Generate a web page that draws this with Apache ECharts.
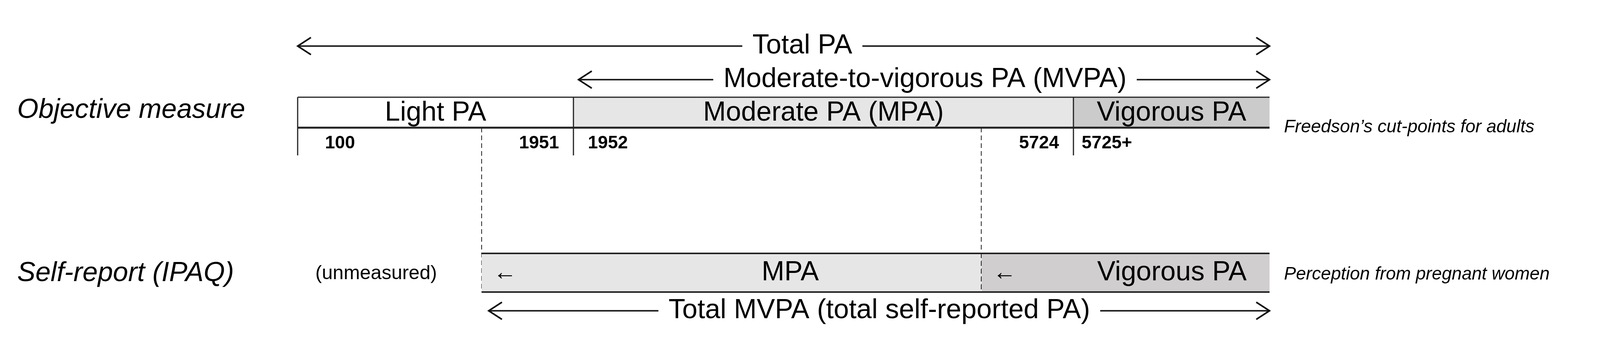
<!DOCTYPE html>
<html><head><meta charset="utf-8">
<script src="https://cdn.jsdelivr.net/npm/echarts@6/dist/echarts.min.js"></script>
<style>html,body{margin:0;background:#fff}#c{width:4272px;height:899px}</style>
</head><body><div id="c"></div>
<script>
// 位置单位 = 画布像素
const objEdges = [762, 1468, 2748, 3250];
const objLabels = ['Light PA', 'Moderate PA (MPA)', 'Vigorous PA'];
const objFills = ['#ffffff', '#e6e6e6', '#cbcbcb'];
const cutLabels = ['100', '1951', '1952', '5724', '5725+'];
const cutPos = [832, 1431, 1505, 2711, 2769];
const cutAlign = ['left', 'right', 'left', 'right', 'left'];
const selfEdges = [1233, 2512, 3250];
const selfLabels = ['MPA', 'Vigorous PA'];
const selfFills = ['#e6e6e6', '#d0cece'];
const arrowNames = ['Total PA', 'Moderate-to-vigorous PA (MVPA)', 'Total MVPA (total self-reported PA)'];
const arrowFrom = [762, 1481, 1251];
const arrowTo = [3250, 3250, 3250];
const arrowY = [118, 204, 796];
const arrowTextX = [2054, 2368, 2251];

const FONT = '"Liberation Sans", Arial, sans-serif';
const ob = {y0: 249, y1: 327, tickEnd: 398};
const sb = {y0: 649, y1: 748};

function line(api, x0, y0, x1, y1, dash, w) {
  const a = api.coord([x0, y0]), b = api.coord([x1, y1]);
  return {type: 'line', shape: {x1: a[0], y1: a[1], x2: b[0], y2: b[1]},
    style: {stroke: '#222', lineWidth: w || 3, lineDash: dash ? [12, 8] : null}};
}
function text(api, x, y, s, opt) {
  const p = api.coord([x, y]);
  opt = opt || {};
  return {type: 'text', x: p[0], y: p[1], z2: 10,
    style: {text: s, fill: '#000', font: (opt.style || '') + ' ' + (opt.weight || 'normal') + ' ' + (opt.size || 70) + 'px ' + FONT,
      align: opt.align || 'center', verticalAlign: 'middle',
      backgroundColor: opt.bg || null, padding: opt.bg ? [0, 26] : 0}};
}
function arrowHead(api, x, y, dir) {
  const a = api.coord([x, y]);
  return {type: 'polyline', shape: {points: [[a[0] - dir * 34, a[1] - 22], [a[0], a[1]], [a[0] - dir * 34, a[1] + 22]]},
    style: {stroke: '#111', lineWidth: 4, fill: null}};
}

function renderAll(params, api) {
  const ch = [];
  // 客观测量条
  for (let i = 0; i < objLabels.length; i++) {
    const a = api.coord([objEdges[i], ob.y0]), b = api.coord([objEdges[i + 1], ob.y1]);
    ch.push({type: 'rect', shape: {x: a[0], y: a[1], width: b[0] - a[0], height: b[1] - a[1]}, style: {fill: objFills[i]}});
    ch.push(text(api, (objEdges[i] + objEdges[i + 1]) / 2, 290, objLabels[i]));
  }
  ch.push(line(api, objEdges[0], ob.y0, objEdges[3], ob.y0));
  ch.push(line(api, objEdges[0], ob.y1, objEdges[3], ob.y1, false, 5));
  for (let i = 0; i < 3; i++) ch.push(line(api, objEdges[i], ob.y0, objEdges[i], ob.tickEnd));
  cutLabels.forEach((s, i) => ch.push(text(api, cutPos[i], 367, s, {size: 46, weight: 'bold', align: cutAlign[i]})));
  // 虚线
  ch.push(line(api, selfEdges[0], ob.y1, selfEdges[0], sb.y1, true, 2));
  ch.push(line(api, selfEdges[1], ob.y1, selfEdges[1], sb.y1, true, 2));
  // 自报条
  for (let i = 0; i < selfLabels.length; i++) {
    const a = api.coord([selfEdges[i], sb.y0]), b = api.coord([selfEdges[i + 1], sb.y1]);
    ch.push({type: 'rect', shape: {x: a[0] + (i ? 1 : 0), y: a[1], width: b[0] - a[0] - (i ? 1 : 0), height: b[1] - a[1]}, style: {fill: selfFills[i]}});
    ch.push(text(api, selfEdges[i] + 60, 699, '←', {size: 60}));
  }
  ch.push(text(api, 2023, 699, selfLabels[0]));
  ch.push(text(api, 3000, 699, selfLabels[1]));
  ch.push(line(api, selfEdges[0], sb.y0, selfEdges[2], sb.y0, false, 4));
  ch.push(line(api, selfEdges[0], sb.y1, selfEdges[2], sb.y1, false, 4));
  ch.push(line(api, selfEdges[1], sb.y0, selfEdges[1], sb.y1, true, 2));
  ch.push(text(api, 963, 701, '(unmeasured)', {size: 50}));
  // 箭头
  arrowNames.forEach((s, i) => {
    ch.push(line(api, arrowFrom[i], arrowY[i], arrowTo[i], arrowY[i], false, 4));
    ch.push(arrowHead(api, arrowFrom[i], arrowY[i], -1));
    ch.push(arrowHead(api, arrowTo[i], arrowY[i], 1));
    ch.push(text(api, arrowTextX[i], arrowY[i], s, {bg: '#fff'}));
  });
  // 左右说明
  ch.push(text(api, 44, 283, 'Objective measure', {size: 70, style: 'italic', align: 'left'}));
  ch.push(text(api, 44, 701, 'Self-report (IPAQ)', {size: 70, style: 'italic', align: 'left'}));
  ch.push(text(api, 3287, 326, 'Freedson’s cut-points for adults', {size: 46, style: 'italic', align: 'left'}));
  ch.push(text(api, 3287, 703, 'Perception from pregnant women', {size: 46, style: 'italic', align: 'left'}));
  return {type: 'group', children: ch};
}

const chart = echarts.init(document.getElementById('c'));
chart.setOption({
  animation: false,
  grid: {left: 0, right: 0, top: 0, bottom: 0},
  xAxis: {type: 'value', min: 0, max: 4272, show: false},
  yAxis: {type: 'value', min: 0, max: 899, inverse: true, show: false},
  series: [{type: 'custom', renderItem: renderAll, data: [[0, 0]], clip: false}]
});
</script></body></html>
